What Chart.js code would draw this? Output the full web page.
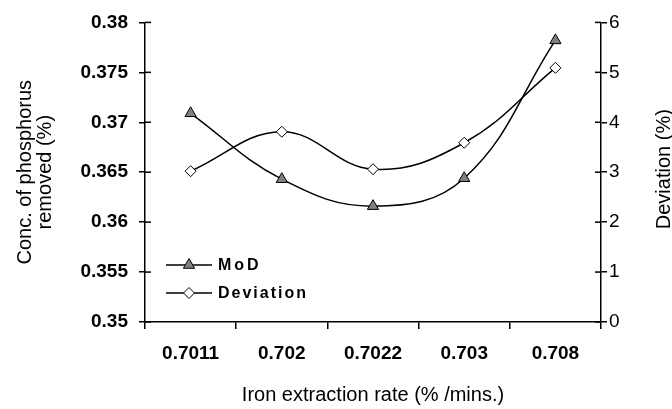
<!DOCTYPE html>
<html>
<head>
<meta charset="utf-8">
<script src="https://cdn.jsdelivr.net/npm/chart.js@4.4.0/dist/chart.umd.min.js"></script>
<style>
  html, body { margin: 0; padding: 0; background: #fff; }
  #wrap { width: 672px; height: 409px; }
</style>
</head>
<body>
<div id="wrap"><canvas id="phosChart" width="672" height="409"></canvas></div>
<script>
// values
const categories = ["0.7011", "0.702", "0.7022", "0.703", "0.708"];
const modValues = [0.3709, 0.3643, 0.3616, 0.3644, 0.3782];
const deviationValues = [3.02, 3.81, 3.06, 3.59, 5.09];
const leftTicks = [0.35, 0.355, 0.36, 0.365, 0.37, 0.375, 0.38];
const rightTicks = [0, 1, 2, 3, 4, 5, 6];
const rightTitle = "Deviation (%)";

const FONT = "'Liberation Sans', Arial, sans-serif";
Chart.defaults.color = "#000";
Chart.defaults.font.family = FONT;

// small tick marks that also cross into the plot
const crossTicks = {
  id: "crossTicks",
  afterDraw(chart) {
    const ctx = chart.ctx;
    const area = chart.chartArea;
    ctx.save();
    ctx.strokeStyle = "#000";
    ctx.lineWidth = 1.5;
    ["y", "y2"].forEach(id => {
      const scale = chart.scales[id];
      const x = id === "y" ? area.left : area.right;
      const dir = id === "y" ? 1 : -1;
      scale.ticks.forEach((t, i) => {
        const py = scale.getPixelForTick(i);
        ctx.beginPath();
        ctx.moveTo(x, py);
        ctx.lineTo(x + dir * 6, py);
        ctx.stroke();
      });
    });
    ctx.restore();
  }
};

// right axis title reads bottom to top, like the left one
const rightAxisTitle = {
  id: "rightAxisTitle",
  afterDraw(chart) {
    const ctx = chart.ctx;
    const scale = chart.scales.y2;
    ctx.save();
    ctx.translate(scale.right - 8, (scale.top + scale.bottom) / 2 - 3);
    ctx.rotate(-Math.PI / 2);
    ctx.font = "20px " + FONT;
    ctx.fillStyle = "#000";
    ctx.textAlign = "center";
    ctx.textBaseline = "middle";
    ctx.fillText(rightTitle, 0, 0);
    ctx.restore();
  }
};

// legend drawn inside the plot, lower left
const innerLegend = {
  id: "innerLegend",
  afterDatasetsDraw(chart) {
    const ctx = chart.ctx;
    const area = chart.chartArea;
    chart.data.datasets.forEach((ds, i) => {
      const y = area.bottom - 57 + i * 28;
      const x0 = area.left + 21;
      ctx.save();
      ctx.strokeStyle = "#000";
      ctx.lineWidth = 1.5;
      ctx.beginPath();
      ctx.moveTo(x0, y);
      ctx.lineTo(x0 + 46, y);
      ctx.stroke();
      ctx.fillStyle = ds.pointBackgroundColor;
      ctx.strokeStyle = "#000";
      ctx.lineWidth = 1;
      Chart.helpers.drawPoint(ctx, { pointStyle: ds.pointStyle, radius: ds.pointRadius, borderWidth: 1 }, x0 + 23, y);
      ctx.font = "bold 16px " + FONT;
      ctx.letterSpacing = i === 0 ? "3px" : "2px";
      ctx.fillStyle = "#000";
      ctx.textBaseline = "middle";
      ctx.fillText(ds.label, x0 + 52, y + 1);
      ctx.restore();
    });
  }
};

const ctx = document.getElementById("phosChart").getContext("2d");

new Chart(ctx, {
  type: "line",
  data: {
    labels: categories,
    datasets: [
      {
        label: "MoD",
        data: modValues,
        yAxisID: "y",
        borderColor: "#000",
        borderWidth: 1.5,
        tension: 0.4,
        pointStyle: "triangle",
        pointRadius: 6.5,
        pointBackgroundColor: "#808080",
        pointBorderColor: "#000",
        pointBorderWidth: 1
      },
      {
        label: "Deviation",
        data: deviationValues,
        yAxisID: "y2",
        borderColor: "#000",
        borderWidth: 1.5,
        tension: 0.4,
        pointStyle: "rectRot",
        pointRadius: 5.5,
        pointBackgroundColor: "#fff",
        pointBorderColor: "#000",
        pointBorderWidth: 1
      }
    ]
  },
  options: {
    responsive: false,
    animation: false,
    layout: { padding: { top: 18, left: 0, right: 0, bottom: 0 } },
    plugins: {
      legend: { display: false },
      tooltip: { enabled: false }
    },
    scales: {
      x: {
        offset: true,
        border: { color: "#000", width: 1.5 },
        grid: { offset: true, drawOnChartArea: false, color: "#000", lineWidth: 1.5, tickLength: 7 },
        ticks: { font: { size: 19, weight: "bold" }, padding: 13, maxRotation: 0 },
        title: {
          display: true,
          text: "Iron extraction rate (% /mins.)",
          font: { size: 20 },
          padding: { top: 0, bottom: 2 }
        },
        afterFit(scale) { scale.height = 87; }
      },
      y: {
        position: "left",
        min: leftTicks[0],
        max: leftTicks[leftTicks.length - 1],
        afterBuildTicks(scale) { scale.ticks = leftTicks.map(v => ({ value: v })); },
        border: { color: "#000", width: 1.5 },
        grid: { drawOnChartArea: false, color: "#000", lineWidth: 1.5, tickLength: 6 },
        ticks: {
          font: { size: 19, weight: "bold" },
          padding: 11,
          callback: v => String(parseFloat(Number(v).toFixed(3)))
        },
        title: {
          display: true,
          text: ["Conc. of phosphorus", "removed (%)"],
          font: { size: 20, lineHeight: 1.0 },
          padding: { top: 15, bottom: 0 }
        },
        afterFit(scale) { scale.width = 145; }
      },
      y2: {
        position: "right",
        min: rightTicks[0],
        max: rightTicks[rightTicks.length - 1],
        afterBuildTicks(scale) { scale.ticks = rightTicks.map(v => ({ value: v })); },
        border: { color: "#000", width: 1.5 },
        grid: { drawOnChartArea: false, color: "#000", lineWidth: 1.5, tickLength: 6 },
        ticks: { font: { size: 19 }, padding: 2 },
        title: { display: false },
        afterFit(scale) { scale.width = 71; }
      }
    }
  },
  plugins: [crossTicks, rightAxisTitle, innerLegend]
});
</script>
</body>
</html>
